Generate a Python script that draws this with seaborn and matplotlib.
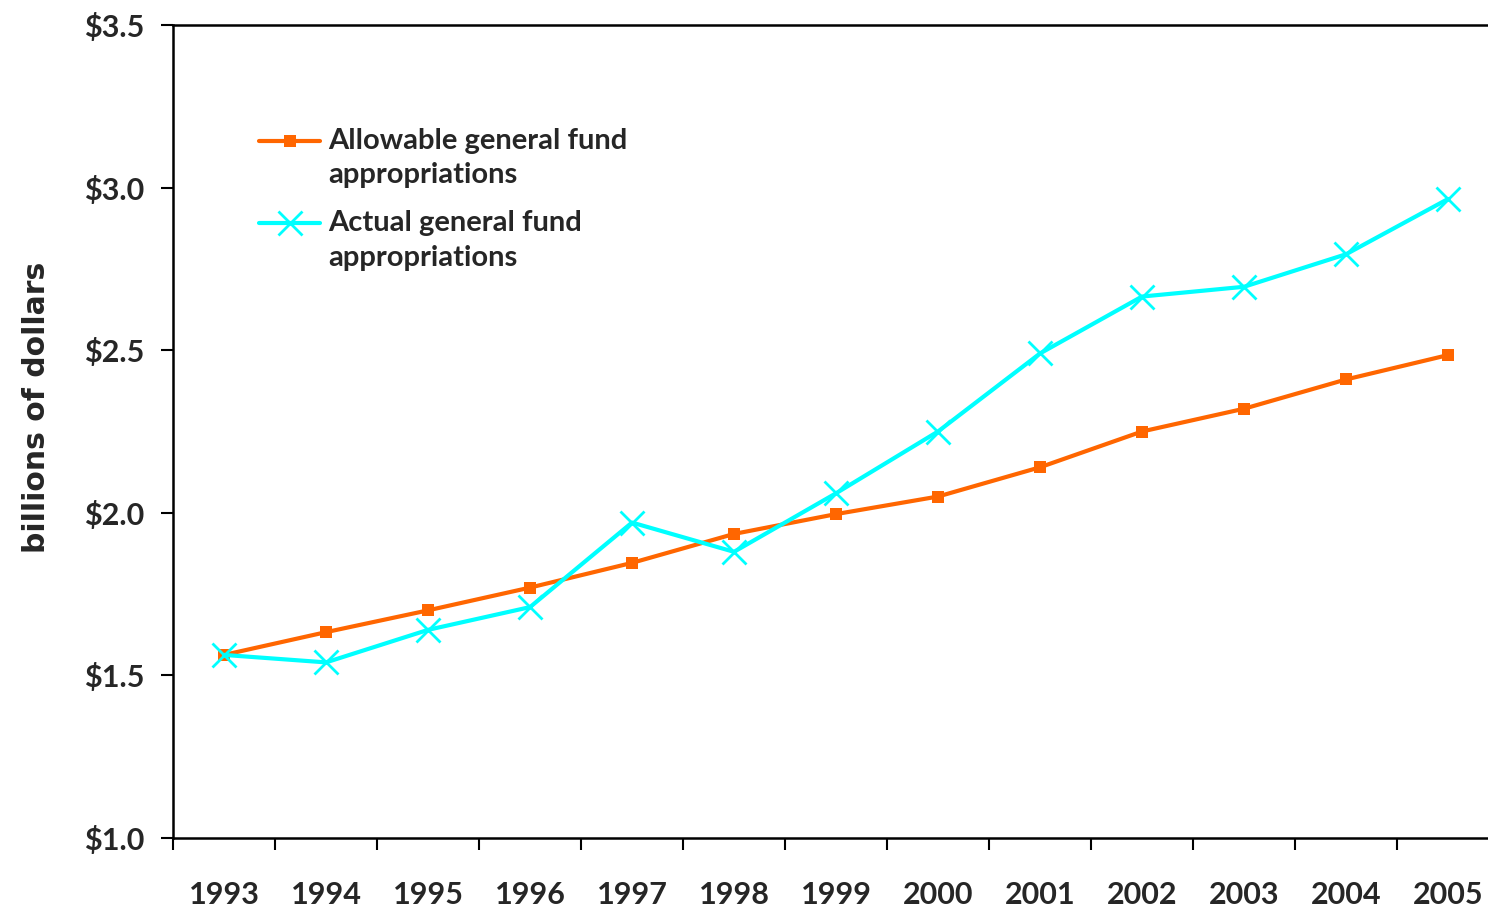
"""
Allowable vs actual general fund appropriations, 1993-2005.
"""

import matplotlib
matplotlib.use("Agg")
import matplotlib.pyplot as plt
from matplotlib.legend_handler import HandlerLine2D
from matplotlib.ticker import FixedLocator, FuncFormatter
import seaborn as sns
import pandas as pd

sns.set_theme(style="white")
plt.rcParams["font.family"] = ["Lato", "DejaVu Sans"]

YEARS = ["1993", "1994", "1995", "1996", "1997", "1998", "1999",
         "2000", "2001", "2002", "2003", "2004", "2005"]
ALLOWABLE = [1.563, 1.633, 1.70, 1.77, 1.846, 1.935, 1.996,
             2.05, 2.14, 2.25, 2.32, 2.41, 2.485]
ACTUAL = [1.563, 1.54, 1.64, 1.71, 1.97, 1.88, 2.06,
          2.25, 2.49, 2.665, 2.695, 2.795, 2.965]

ORANGE = "#FF6600"
CYAN = "#00FFFF"


class TopLineHandler(HandlerLine2D):
    """Legend handle aligned with the first line of a two-line label."""

    def __init__(self, shift, **kw):
        super().__init__(**kw)
        self.shift = shift

    def create_artists(self, legend, orig_handle, xdescent, ydescent,
                       width, height, fontsize, trans):
        artists = super().create_artists(legend, orig_handle, xdescent, ydescent,
                                         width, height, fontsize, trans)
        for a in artists:
            a.set_ydata([y + self.shift for y in a.get_ydata()])
        return artists


df = pd.DataFrame({"pos": range(len(YEARS)), "allowable": ALLOWABLE, "actual": ACTUAL})

fig = plt.figure(figsize=(14.88, 9.11), dpi=100)
ax = fig.add_axes([173 / 1488, 73 / 911, 1326 / 1488, 813 / 911])

sns.lineplot(data=df, x="pos", y="allowable", ax=ax, color=ORANGE, lw=3,
             marker="s", markersize=9, markeredgewidth=0,
             label="Allowable general fund\nappropriations")
sns.lineplot(data=df, x="pos", y="actual", ax=ax, color=CYAN, lw=3,
             marker="x", markersize=17, markeredgewidth=2, markeredgecolor=CYAN,
             label="Actual general fund\nappropriations")

ax.set_xlim(-0.5, len(YEARS) - 0.5)
ax.set_ylim(1.0, 3.5)

# year labels sit between the tick marks
ax.set_xticks(range(len(YEARS)))
ax.set_xticklabels(YEARS)
ax.xaxis.set_minor_locator(FixedLocator([i - 0.5 for i in range(len(YEARS) + 1)]))
ax.tick_params(axis="x", which="major", length=0, pad=31, labelsize=22)
ax.tick_params(axis="x", which="minor", length=8.5, width=1.5, color="black",
               direction="out", bottom=True)
for lbl in ax.get_xticklabels():
    lbl.set_fontweight("bold")

ax.set_yticks([1.0, 1.5, 2.0, 2.5, 3.0, 3.5])
ax.yaxis.set_major_formatter(FuncFormatter(lambda v, _: f"${v:.1f}"))
ax.tick_params(axis="y", length=8.5, width=1.5, color="black", direction="out",
               left=True, pad=12, labelsize=22)
for lbl in ax.get_yticklabels():
    lbl.set_fontweight("bold")

ax.set_xlabel("")
ax.set_ylabel("billions of dollars", fontsize=21.5, fontweight="bold",
              family=["DejaVu Sans"])
ax.yaxis.set_label_coords(-0.092, 0.53)

for side in ["left", "bottom", "top"]:
    ax.spines[side].set_color("black")
    ax.spines[side].set_linewidth(1.8)
ax.spines["right"].set_visible(False)
ax.grid(False)

handles, labels = ax.get_legend_handles_labels()
leg = ax.legend(handles, labels, loc="upper left", bbox_to_anchor=(0.056, 0.888),
                frameon=False, prop={"size": 21, "weight": "bold"},
                handlelength=2.1, handletextpad=0.28, labelspacing=0.76,
                borderaxespad=0,
                handler_map={h: TopLineHandler(12.6) for h in handles})
for t in leg.get_texts():
    t.set_linespacing(1.4)

fig.savefig("out.png", dpi=100)
plt.close(fig)
